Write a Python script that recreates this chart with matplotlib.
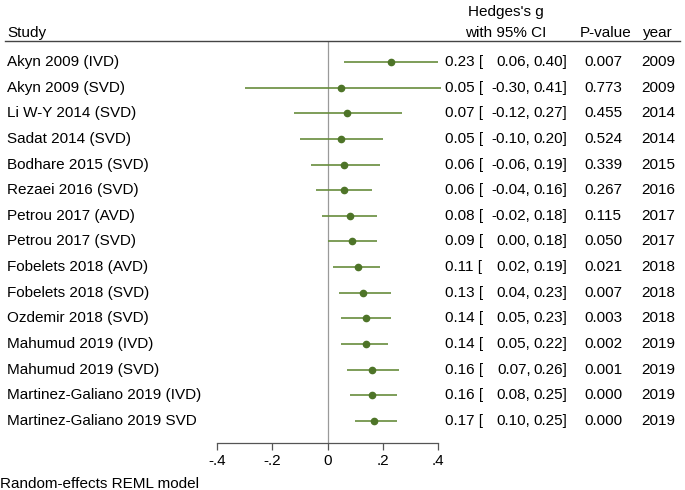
import matplotlib.pyplot as plt
from matplotlib.transforms import blended_transform_factory

plt.rcParams['font.family'] = ['Liberation Sans', 'DejaVu Sans']

studies = ['Akyn 2009 (IVD)', 'Akyn 2009 (SVD)', 'Li W-Y 2014 (SVD)', 'Sadat 2014 (SVD)',
           'Bodhare 2015 (SVD)', 'Rezaei 2016 (SVD)', 'Petrou 2017 (AVD)', 'Petrou 2017 (SVD)',
           'Fobelets 2018 (AVD)', 'Fobelets 2018 (SVD)', 'Ozdemir 2018 (SVD)',
           'Mahumud 2019 (IVD)', 'Mahumud 2019 (SVD)', 'Martinez-Galiano 2019 (IVD)',
           'Martinez-Galiano 2019 SVD']
g = [0.23, 0.05, 0.07, 0.05, 0.06, 0.06, 0.08, 0.09, 0.11, 0.13, 0.14, 0.14, 0.16, 0.16, 0.17]
lo = [0.06, -0.30, -0.12, -0.10, -0.06, -0.04, -0.02, 0.00, 0.02, 0.04, 0.05, 0.05, 0.07, 0.08, 0.10]
hi = [0.40, 0.41, 0.27, 0.20, 0.19, 0.16, 0.18, 0.18, 0.19, 0.23, 0.23, 0.22, 0.26, 0.25, 0.25]
pvals = ['0.007', '0.773', '0.455', '0.524', '0.339', '0.267', '0.115', '0.050', '0.021',
         '0.007', '0.003', '0.002', '0.001', '0.000', '0.000']
years = [2009, 2009, 2014, 2014, 2015, 2016, 2017, 2017, 2018, 2018, 2018, 2019, 2019, 2019, 2019]
xticks = [-0.4, -0.2, 0, 0.2, 0.4]
xticklabels = ['-.4', '-.2', '0', '.2', '.4']

W, H = 685, 490
fig = plt.figure(figsize=(W / 100, H / 100), dpi=100)
ax = fig.add_axes([217 / W, 1 - 443 / H, (438 - 217) / W, (443 - 41) / H])

line_c = '#678c3c'
dot_c = '#4e7428'
fs = 11

rows = list(range(len(studies)))
ax.axvline(0, color='#9a9a9a', lw=0.9, zorder=1)
ax.hlines(rows, lo, hi, color=line_c, lw=1.2, zorder=2, clip_on=False)
ax.plot(g, rows, 'o', color=dot_c, ms=4.5, zorder=3, clip_on=False)

ax.set_xlim(-0.4, 0.4)
ax.set_ylim(14.86, -0.82)
for s in ['top', 'right', 'left']:
    ax.spines[s].set_visible(False)
ax.spines['bottom'].set_color('#555555')
ax.spines['bottom'].set_linewidth(0.9)
ax.set_yticks([])
ax.set_xticks(xticks)
ax.set_xticklabels(xticklabels, fontsize=fs)
ax.tick_params(axis='x', length=5, width=0.9, color='#555555', pad=3)

tr = blended_transform_factory(fig.transFigure, ax.transData)
for i in rows:
    ax.text(7 / W, i, studies[i], transform=tr, ha='left', va='center', fontsize=fs)
    ax.text(445 / W, i, f'{g[i]:.2f} [', transform=tr, ha='left', va='center', fontsize=fs)
    ax.text(530.5 / W, i, f'{lo[i]:.2f},', transform=tr, ha='right', va='center', fontsize=fs)
    ax.text(533.5 / W, i, f'{hi[i]:.2f}]', transform=tr, ha='left', va='center', fontsize=fs)
    ax.text(603 / W, i, pvals[i], transform=tr, ha='center', va='center', fontsize=fs)
    ax.text(658 / W, i, str(years[i]), transform=tr, ha='center', va='center', fontsize=fs)

# header
fig.text(7 / W, 1 - 33 / H, 'Study', ha='left', va='center', fontsize=fs)
fig.text(506 / W, 1 - 12 / H, "Hedges's g", ha='center', va='center', fontsize=fs)
fig.text(506 / W, 1 - 33 / H, 'with 95% CI', ha='center', va='center', fontsize=fs)
fig.text(606 / W, 1 - 33 / H, 'P-value', ha='center', va='center', fontsize=fs)
fig.text(658 / W, 1 - 33 / H, 'year', ha='center', va='center', fontsize=fs)
fig.add_artist(plt.Line2D([5 / W, 680 / W], [1 - 41 / H, 1 - 41 / H],
                          color='#444444', lw=1.0, transform=fig.transFigure))

fig.text(0, 1 - 484 / H, 'Random-effects REML model', ha='left', va='center', fontsize=fs)

fig.savefig('out.png', dpi=100)
